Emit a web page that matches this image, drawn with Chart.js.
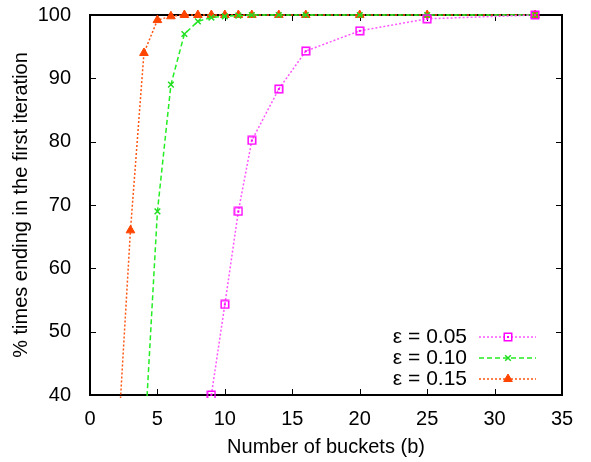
<!DOCTYPE html>
<html>
<head>
<meta charset="utf-8">
<script src="https://cdn.jsdelivr.net/npm/chart.js@4/dist/chart.umd.min.js"></script>
<style>
  html, body { margin: 0; padding: 0; background: #fff; }
  canvas { display: block; }
</style>
</head>
<body>
<canvas id="chart" width="591" height="462"></canvas>
<script>
const buckets05 = [9, 10, 11, 12, 14, 16, 20, 25, 33];
const pct05     = [40, 54.3, 69, 80.2, 88.3, 94.3, 97.5, 99.4, 100];

const buckets10 = [4, 5, 6, 7, 8, 9, 10, 11, 12, 14, 16, 20, 25, 33];
const pct10     = [31, 69, 89, 97, 99, 99.6, 99.8, 99.9, 100, 100, 100, 100, 100, 100];

const buckets15 = [2, 3, 4, 5, 6, 7, 8, 9, 10, 11, 12, 14, 16, 20, 25, 33];
const pct15     = [30, 66, 94, 99.2, 99.8, 100, 100, 100, 100, 100, 100, 100, 100, 100, 100, 100];

const labels = ['ε = 0.05', 'ε = 0.10', 'ε = 0.15'];

const FONT = 'Liberation Sans, Arial, sans-serif';

// open square with a dot in the middle, like gnuplot's point
function squareDot(color) {
  const c = document.createElement('canvas');
  c.width = 10; c.height = 10;
  const g = c.getContext('2d');
  g.strokeStyle = color;
  g.lineWidth = 1.5;
  g.strokeRect(1.25, 1.25, 7.5, 7.5);
  g.fillStyle = color;
  g.fillRect(4, 4, 2, 2);
  return c;
}

const toPts = (xs, ys) => xs.map((x, i) => ({ x, y: ys[i] }));

const frame = {
  id: 'frame',
  beforeDatasetsDraw(chart) {
    const { ctx, chartArea: a, scales: { x, y } } = chart;
    ctx.save();
    ctx.strokeStyle = '#000';
    ctx.lineWidth = 1;
    const tl = 6;
    ctx.beginPath();
    x.ticks.forEach(t => {
      const px = Math.round(x.getPixelForValue(t.value)) + 0.5;
      ctx.moveTo(px, a.bottom); ctx.lineTo(px, a.bottom - tl);
      ctx.moveTo(px, a.top);    ctx.lineTo(px, a.top + tl);
    });
    y.ticks.forEach(t => {
      const py = Math.round(y.getPixelForValue(t.value)) + 0.5;
      ctx.moveTo(a.left, py);  ctx.lineTo(a.left + tl, py);
      ctx.moveTo(a.right, py); ctx.lineTo(a.right - tl, py);
    });
    ctx.stroke();
    ctx.lineWidth = 2;
    ctx.strokeRect(a.left, a.top, a.right - a.left, a.bottom - a.top);
    ctx.restore();
  },
  afterDraw(chart) {
    const { ctx, chartArea: a } = chart;
    ctx.save();
    ctx.font = '21px ' + FONT;
    ctx.textAlign = 'right';
    ctx.textBaseline = 'middle';
    chart.data.datasets.forEach((ds, i) => {
      const yy = a.bottom - 58 + i * 21;
      const tx = a.right - 95;
      ctx.fillStyle = '#000';
      ctx.fillText(ds.label, tx, yy);
      ctx.strokeStyle = ds.borderColor;
      ctx.lineWidth = ds.borderWidth;
      ctx.setLineDash(ds.borderDash);
      ctx.beginPath();
      ctx.moveTo(tx + 12, yy); ctx.lineTo(tx + 69, yy);
      ctx.stroke();
      ctx.setLineDash([]);
      const mx = tx + 41;
      if (ds.pointStyle instanceof HTMLCanvasElement) {
        ctx.drawImage(ds.pointStyle, mx - 5, yy - 5);
      } else {
        ctx.fillStyle = ds.pointBackgroundColor;
        ctx.strokeStyle = ds.pointBorderColor;
        ctx.lineWidth = ds.pointBorderWidth;
        Chart.helpers.drawPoint(ctx, {
          pointStyle: ds.pointStyle, radius: ds.pointRadius,
          borderWidth: ds.pointBorderWidth, rotation: 0
        }, mx, yy);
      }
    });
    ctx.restore();
  }
};

new Chart(document.getElementById('chart'), {
  type: 'line',
  data: {
    datasets: [
      {
        label: labels[0],
        data: toPts(buckets05, pct05),
        borderColor: '#ff55ff',
        borderWidth: 1.5,
        borderDash: [2, 2],
        pointStyle: squareDot('#ff00ff'),
        pointRadius: 5,
        pointBorderColor: '#ff00ff',
        pointBackgroundColor: '#ff00ff',
        pointBorderWidth: 1.5,
        tension: 0,
        clip: { left: 8, top: 8, right: 8, bottom: 3 },
      },
      {
        label: labels[1],
        data: toPts(buckets10, pct10),
        borderColor: '#22ee22',
        borderWidth: 1.5,
        borderDash: [5, 3],
        pointStyle: 'crossRot',
        pointRadius: 4,
        pointBorderColor: '#22dd22',
        pointBackgroundColor: '#22dd22',
        pointBorderWidth: 1.5,
        tension: 0,
        clip: { left: 8, top: 8, right: 8, bottom: 3 },
      },
      {
        label: labels[2],
        data: toPts(buckets15, pct15),
        borderColor: '#ff5511',
        borderWidth: 1.5,
        borderDash: [2, 2],
        pointStyle: 'triangle',
        pointRadius: 5,
        pointBorderColor: '#ff4400',
        pointBackgroundColor: '#ff4400',
        pointBorderWidth: 1,
        tension: 0,
        clip: { left: 8, top: 8, right: 8, bottom: 3 },
      },
    ],
  },
  options: {
    responsive: false,
    animation: false,
    layout: { padding: { top: 15, right: 29, left: 0, bottom: 0 } },
    plugins: {
      legend: { display: false },
      tooltip: { enabled: false },
    },
    scales: {
      x: {
        type: 'linear',
        min: 0, max: 35,
        afterFit: s => { s.height = 67; s.paddingLeft = 0; s.paddingRight = 0; },
        ticks: { stepSize: 5, color: '#000', padding: 4, font: { family: FONT, size: 20 } },
        grid: { display: false },
        border: { display: false },
        title: {
          display: true, text: 'Number of buckets (b)', color: '#000',
          font: { family: FONT, size: 20 }, padding: { top: 0, bottom: 3 },
        },
      },
      y: {
        type: 'linear',
        min: 40, max: 100,
        afterFit: s => { s.width = 90; s.paddingTop = 0; s.paddingBottom = 0; },
        ticks: { stepSize: 10, color: '#000', padding: 11, font: { family: FONT, size: 20 } },
        grid: { display: false },
        border: { display: false },
        title: {
          display: true, text: '% times ending in the first iteration', color: '#000',
          font: { family: FONT, size: 20 }, padding: { top: 9, bottom: 0 },
        },
      },
    },
  },
  plugins: [frame],
});
</script>
</body>
</html>
